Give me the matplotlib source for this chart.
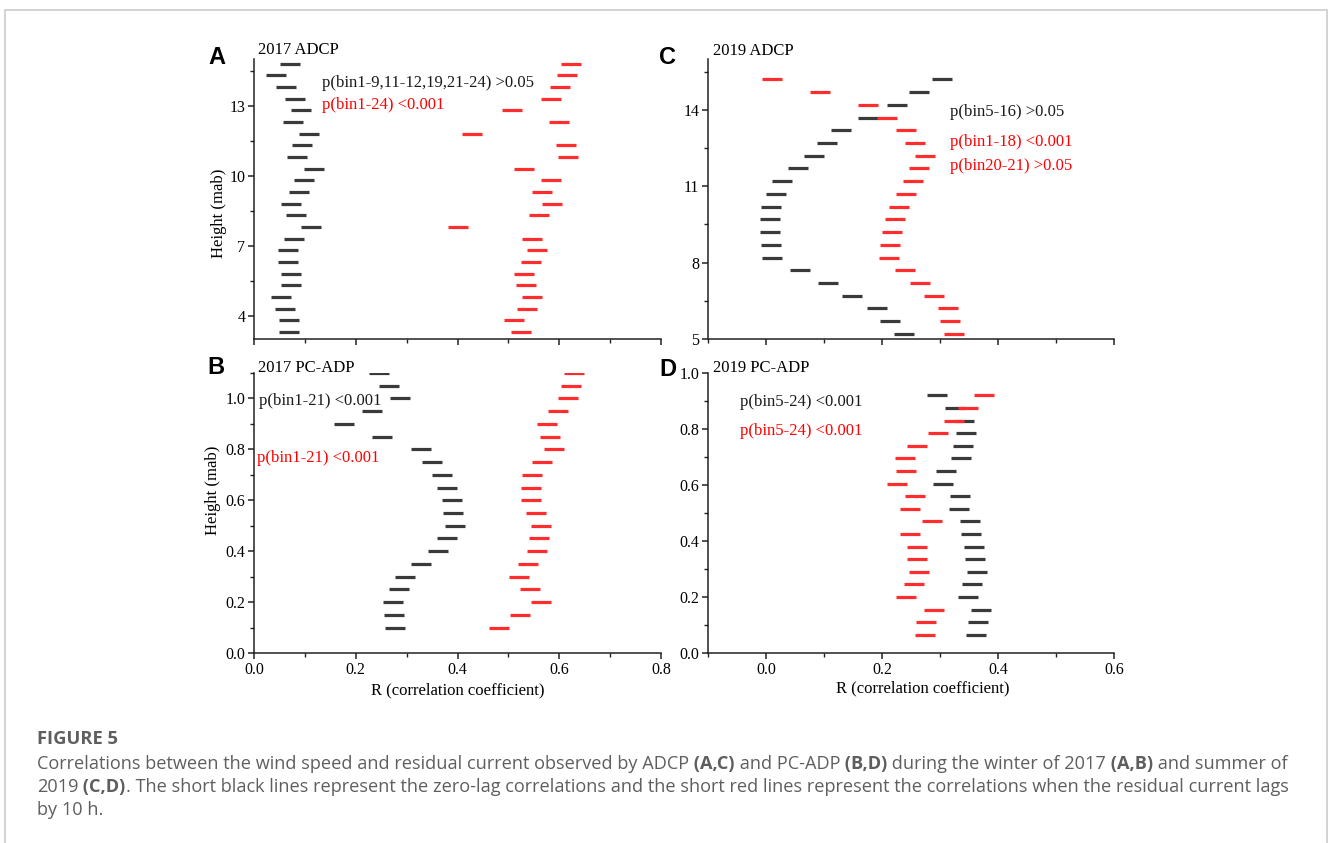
"""
Figure 5: zero-lag and 10 h lag correlations between wind speed and residual
current for the ADCP and PC-ADP deployments (winter 2017, summer 2019).
"""
import matplotlib
matplotlib.use('Agg')
import matplotlib.pyplot as plt
from matplotlib.patches import Rectangle
from matplotlib.ticker import MultipleLocator, FixedLocator, FormatStrFormatter, NullFormatter

W, H = 1328, 843

# Panel A: 2017 ADCP (bins 1-24, bottom to top)
A_HEIGHT = [3.3, 3.8, 4.3, 4.8, 5.3, 5.8, 6.3, 6.8, 7.3, 7.8, 8.3, 8.8,
            9.3, 9.8, 10.3, 10.8, 11.3, 11.8, 12.3, 12.8, 13.3, 13.8, 14.3, 14.8]
A_ZERO_LAG = [0.069, 0.069, 0.061, 0.053, 0.072, 0.072, 0.066, 0.067, 0.079, 0.112, 0.083, 0.072,
              0.089, 0.098, 0.117, 0.085, 0.094, 0.108, 0.077, 0.092, 0.080, 0.062, 0.043, 0.070]
A_LAG_10H = [0.524, 0.511, 0.536, 0.547, 0.534, 0.531, 0.544, 0.556, 0.546, 0.401, 0.560, 0.586,
             0.567, 0.584, 0.531, 0.618, 0.613, 0.428, 0.600, 0.507, 0.584, 0.601, 0.615, 0.624]

# Panel B: 2017 PC-ADP (bins 1-21)
B_HEIGHT = [0.10, 0.15, 0.20, 0.25, 0.30, 0.35, 0.40, 0.45, 0.50, 0.55, 0.60,
            0.65, 0.70, 0.75, 0.80, 0.85, 0.90, 0.95, 1.00, 1.05, 1.10]
B_ZERO_LAG = [0.277, 0.275, 0.274, 0.285, 0.296, 0.329, 0.362, 0.379, 0.396, 0.392, 0.389,
              0.379, 0.370, 0.349, 0.329, 0.252, 0.176, 0.231, 0.287, 0.266, 0.245]
B_LAG_10H = [0.481, 0.523, 0.565, 0.542, 0.521, 0.538, 0.556, 0.560, 0.565, 0.554, 0.544,
             0.545, 0.546, 0.567, 0.589, 0.582, 0.575, 0.597, 0.618, 0.624, 0.629]

# Panel C: 2019 ADCP (bins 1-21)
C_HEIGHT = [5.2, 5.7, 6.2, 6.7, 7.2, 7.7, 8.2, 8.7, 9.2, 9.7, 10.2,
            10.7, 11.2, 11.7, 12.2, 12.7, 13.2, 13.7, 14.2, 14.7, 15.2]
C_ZERO_LAG = [0.238, 0.214, 0.191, 0.149, 0.107, 0.058, 0.010, 0.008, 0.007, 0.007, 0.008,
              0.018, 0.028, 0.055, 0.082, 0.106, 0.129, 0.176, 0.225, 0.264, 0.303]
C_LAG_10H = [0.324, 0.318, 0.313, 0.289, 0.266, 0.239, 0.212, 0.214, 0.217, 0.223, 0.229,
             0.242, 0.254, 0.264, 0.274, 0.257, 0.241, 0.209, 0.176, 0.093, 0.010]

# Panel D: 2019 PC-ADP (bins 5-24)
D_HEIGHT = [0.065, 0.110, 0.155, 0.200, 0.245, 0.290, 0.335, 0.380, 0.425, 0.470,
            0.515, 0.560, 0.605, 0.650, 0.695, 0.740, 0.785, 0.830, 0.875, 0.920]
D_ZERO_LAG = [0.362, 0.365, 0.371, 0.349, 0.356, 0.363, 0.361, 0.358, 0.353, 0.352,
              0.332, 0.334, 0.306, 0.310, 0.336, 0.339, 0.345, 0.342, 0.326, 0.294]
D_LAG_10H = [0.274, 0.276, 0.290, 0.241, 0.255, 0.264, 0.261, 0.260, 0.248, 0.286,
             0.248, 0.257, 0.225, 0.241, 0.239, 0.261, 0.297, 0.324, 0.348, 0.376]

BLACK = '#3a3a3a'
RED = '#ff2d2d'
CAPTION_GREY = '#5e5e5e'

CAPTION_LINES = [
    [("Correlations between the wind speed and residual current observed by ADCP", False),
     (" (A,C)", True), (" and PC-ADP", False), (" (B,D)", True),
     (" during the winter of 2017", False), (" (A,B)", True), (" and summer of", False)],
    [("2019", False), (" (C,D)", True),
     (". The short black lines represent the zero-lag correlations and the short red lines "
      "represent the correlations when the residual current lags", False)],
    [("by 10 h.", False)],
]


def fig_xy(x, y):
    """Pixel position (from the top left) to figure fraction."""
    return x / W, 1 - y / H


def add_axes_px(fig, left, top, width, height):
    return fig.add_axes([left / W, 1 - (top + height) / H, width / W, height / H])


def style_axes(ax):
    for side in ('top', 'right'):
        ax.spines[side].set_visible(False)
    for side in ('left', 'bottom'):
        ax.spines[side].set_linewidth(1.1)
        ax.spines[side].set_color('#222222')
    ax.tick_params(which='major', direction='out', length=4.3, width=1.1,
                   labelsize=11.5, pad=2, color='#222222')
    ax.tick_params(which='minor', direction='out', length=2.6, width=1.0, color='#222222')


def plot_bars(ax, heights, zero_lag, lag_10h):
    kw = dict(ls='none', marker='_', ms=14.2, mew=2.3)
    ax.plot(zero_lag, heights, color=BLACK, **kw)
    ax.plot(lag_10h, heights, color=RED, **kw)


def draw_runs(fig, runs, x, y, **kw):
    """Write a line made of normal and bold pieces, one after the other."""
    renderer = fig.canvas.get_renderer()
    for text, bold in runs:
        t = fig.text(*fig_xy(x, y), text, fontweight='bold' if bold else 'normal',
                     va='center', ha='left', **kw)
        x += t.get_window_extent(renderer).width


def main():
    plt.rcParams['font.family'] = 'Liberation Serif'
    fig = plt.figure(figsize=(W / 100, H / 100), dpi=100)

    # frame round the whole figure
    fig.add_artist(Rectangle(fig_xy(4.5, 850), 1322.5 / W, 840 / H, transform=fig.transFigure,
                             fill=False, edgecolor='#c8c8c8', lw=1.1))

    ax_a = add_axes_px(fig, 254, 59, 407, 280)
    ax_b = add_axes_px(fig, 254, 373, 407, 280)
    ax_c = add_axes_px(fig, 708, 59, 406, 280)
    ax_d = add_axes_px(fig, 708, 373, 406, 280)

    plot_bars(ax_a, A_HEIGHT, A_ZERO_LAG, A_LAG_10H)
    plot_bars(ax_b, B_HEIGHT, B_ZERO_LAG, B_LAG_10H)
    plot_bars(ax_c, C_HEIGHT, C_ZERO_LAG, C_LAG_10H)
    plot_bars(ax_d, D_HEIGHT, D_ZERO_LAG, D_LAG_10H)

    for ax in (ax_a, ax_b, ax_c, ax_d):
        style_axes(ax)

    # 2017 panels share R from 0 to 0.8, 2019 panels from -0.1 to 0.6
    for ax in (ax_a, ax_b):
        ax.set_xlim(0, 0.8)
    for ax in (ax_c, ax_d):
        ax.set_xlim(-0.1, 0.6)
    for ax in (ax_a, ax_b, ax_c, ax_d):
        ax.xaxis.set_major_locator(MultipleLocator(0.2))
        ax.xaxis.set_minor_locator(MultipleLocator(0.1))
        ax.xaxis.set_major_formatter(FormatStrFormatter('%.1f'))
    for ax in (ax_a, ax_c):
        ax.xaxis.set_major_formatter(NullFormatter())

    ax_a.set_ylim(3, 15)
    ax_a.yaxis.set_major_locator(FixedLocator([4, 7, 10, 13]))
    ax_a.yaxis.set_minor_locator(FixedLocator([5.5, 8.5, 11.5, 14.5]))
    ax_c.set_ylim(5, 16)
    ax_c.yaxis.set_major_locator(FixedLocator([5, 8, 11, 14]))
    ax_c.yaxis.set_minor_locator(FixedLocator([6.5, 9.5, 12.5, 15.5]))
    ax_b.set_ylim(0, 1.1)
    ax_d.set_ylim(0, 1.0)
    for ax in (ax_b, ax_d):
        ax.yaxis.set_major_locator(MultipleLocator(0.2))
        ax.yaxis.set_minor_locator(MultipleLocator(0.1))
        ax.yaxis.set_major_formatter(FormatStrFormatter('%.1f'))

    ax_a.set_ylabel('Height (mab)', fontsize=12, va='center')
    ax_a.yaxis.set_label_coords(-0.086, 0.45)
    ax_b.set_ylabel('Height (mab)', fontsize=12, va='center')
    ax_b.yaxis.set_label_coords(-0.10, 0.58)
    ax_b.set_xlabel('R (correlation coefficient)', fontsize=12, va='center')
    ax_b.xaxis.set_label_coords(0.50, -0.133)
    ax_d.set_xlabel('R (correlation coefficient)', fontsize=12, va='center')
    ax_d.xaxis.set_label_coords(0.53, -0.125)

    # panel letters and titles
    for letter, x, y in [('A', 217, 57), ('B', 216, 367), ('C', 668, 57), ('D', 668, 369)]:
        fig.text(*fig_xy(x, y), letter, family='Liberation Sans', fontweight='bold',
                 fontsize=17, ha='center', va='center')
    for title, x, y in [('2017 ADCP', 258, 50), ('2017 PC-ADP', 258, 368),
                        ('2019 ADCP', 713, 51), ('2019 PC-ADP', 713, 368)]:
        fig.text(*fig_xy(x, y), title, fontsize=12, ha='left', va='center')

    # significance notes
    notes = [
        ('p(bin1-9,11-12,19,21-24) >0.05', 'black', 322, 83),
        ('p(bin1-24) <0.001', 'red', 322, 105),
        ('p(bin1-21) <0.001', 'black', 259, 401),
        ('p(bin1-21) <0.001', 'red', 257, 458),
        ('p(bin5-16) >0.05', 'black', 950, 112),
        ('p(bin1-18) <0.001', 'red', 950, 142),
        ('p(bin20-21) >0.05', 'red', 950, 166),
        ('p(bin5-24) <0.001', 'black', 740, 402),
        ('p(bin5-24) <0.001', 'red', 740, 431),
    ]
    for text, color, x, y in notes:
        fig.text(*fig_xy(x, y), text, color='#ff0000' if color == 'red' else '#1a1a1a',
                 fontsize=12, ha='left', va='center')

    # caption
    fig.text(*fig_xy(37, 739), 'FIGURE 5', family='Open Sans', fontweight='bold',
             fontsize=13.2, color=CAPTION_GREY, ha='left', va='center')
    for line, y in zip(CAPTION_LINES, [764, 787, 810]):
        draw_runs(fig, line, 37, y, family='Open Sans', fontsize=13.05, color=CAPTION_GREY)

    fig.savefig('out.png', dpi=100)


if __name__ == '__main__':
    main()
